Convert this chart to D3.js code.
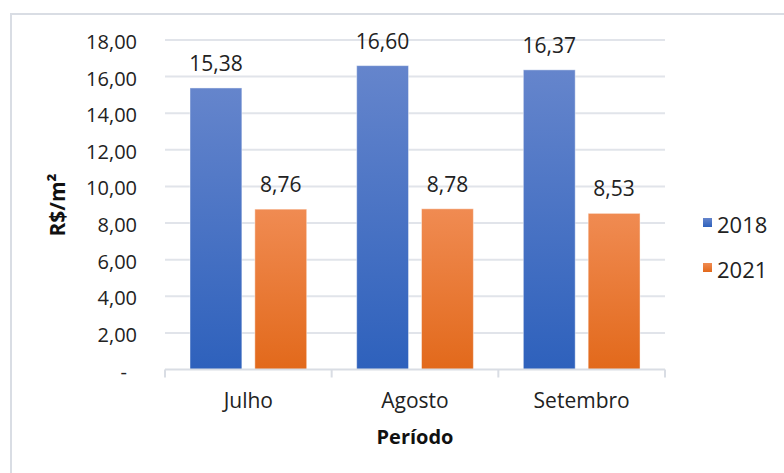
<!DOCTYPE html>
<html>
<head>
<meta charset="utf-8">
<script src="https://cdn.jsdelivr.net/npm/d3@7"></script>
<style>
  body { margin: 0; background: #fff; }
  svg { display: block; font-family: "Open Sans", sans-serif; }
</style>
</head>
<body>
<svg width="784" height="473"></svg>
<script>
const months = ['Julho', 'Agosto', 'Setembro']
const series = ['2018', '2021']
const values2018 = [15.38, 16.60, 16.37]
const values2021 = [8.76, 8.78, 8.53]
const yTicks = [0, 2, 4, 6, 8, 10, 12, 14, 16, 18]

const seriesValues = { '2018': values2018, '2021': values2021 }
const colors = {
  '2018': ['#6585cc', '#2e61bc'],
  '2021': ['#f08b52', '#e2691b']
}

const svg = d3.select('svg')
const fmt = v => v === 0 ? '-' : v.toFixed(2).replace('.', ',')

// gradients
const defs = svg.append('defs')
series.forEach(s => {
  const g = defs.append('linearGradient')
    .attr('id', 'grad' + s)
    .attr('x1', 0).attr('y1', 0).attr('x2', 0).attr('y2', 1)
  g.append('stop').attr('offset', '0%').attr('stop-color', colors[s][0])
  g.append('stop').attr('offset', '100%').attr('stop-color', colors[s][1])
})

// outer frame
svg.append('rect')
  .attr('x', 11).attr('y', 14)
  .attr('width', 800).attr('height', 500)
  .attr('fill', 'none')
  .attr('stroke', '#d9dde4')
  .attr('stroke-width', 2)

const x = d3.scaleBand().domain(months).range([165, 665])
const xInner = d3.scaleBand().domain(series).range([25, 141.7]).paddingInner(0.2)
const y = d3.scaleLinear().domain([0, 18]).range([369.5, 40])

// gridlines
svg.append('g')
  .selectAll('line')
  .data(yTicks.filter(t => t > 0))
  .join('line')
  .attr('x1', 165).attr('x2', 665)
  .attr('y1', d => y(d)).attr('y2', d => y(d))
  .attr('stroke', '#e1e4ea')
  .attr('stroke-width', 2)

// y tick labels
svg.append('g')
  .selectAll('text')
  .data(yTicks)
  .join('text')
  .attr('x', d => d === 0 ? 127 : 137)
  .attr('y', d => y(d) + 2)
  .attr('dy', '0.35em')
  .attr('text-anchor', 'end')
  .attr('font-size', 20)
  .attr('fill', '#222')
  .text(fmt)

// bars
const groups = svg.append('g')
  .selectAll('g')
  .data(months)
  .join('g')
  .attr('transform', d => `translate(${x(d)},0)`)

groups.selectAll('rect')
  .data((m, i) => series.map(s => ({ s, v: seriesValues[s][i] })))
  .join('rect')
  .attr('x', d => xInner(d.s))
  .attr('width', xInner.bandwidth())
  .attr('y', d => y(d.v))
  .attr('height', d => y(0) - y(d.v))
  .attr('fill', d => `url(#grad${d.s})`)
  .attr('stroke', 'rgba(255,255,255,0.45)')
  .attr('stroke-width', 1)

groups.selectAll('text')
  .data((m, i) => series.map(s => ({ s, v: seriesValues[s][i] })))
  .join('text')
  .attr('x', d => xInner(d.s) + xInner.bandwidth() / 2)
  .attr('y', d => y(d.v) - 17)
  .attr('text-anchor', 'middle')
  .attr('font-size', 21)
  .attr('fill', '#222')
  .text(d => fmt(d.v))

// x axis line and ticks
const axis = svg.append('g').attr('stroke', '#d9dde4').attr('stroke-width', 2)
axis.append('line')
  .attr('x1', 165).attr('x2', 665)
  .attr('y1', y(0)).attr('y2', y(0))
axis.selectAll('line.tick')
  .data(months.map(m => x(m)).concat([x.range()[1]]))
  .join('line')
  .attr('class', 'tick')
  .attr('x1', d => d).attr('x2', d => d)
  .attr('y1', y(0)).attr('y2', y(0) + 8)

svg.append('g')
  .selectAll('text')
  .data(months)
  .join('text')
  .attr('x', d => x(d) + x.bandwidth() / 2)
  .attr('y', 408)
  .attr('text-anchor', 'middle')
  .attr('font-size', 21)
  .attr('fill', '#222')
  .text(d => d)

// axis titles
svg.append('text')
  .attr('x', 415).attr('y', 444)
  .attr('text-anchor', 'middle')
  .attr('font-size', 20)
  .attr('font-weight', 'bold')
  .attr('fill', '#111')
  .text('Período')

svg.append('text')
  .attr('transform', 'translate(65,205) rotate(-90)')
  .attr('text-anchor', 'middle')
  .attr('font-size', 21)
  .attr('font-weight', 'bold')
  .attr('fill', '#111')
  .text('R$/m²')

// legend
const legend = svg.append('g')
  .selectAll('g')
  .data(series)
  .join('g')
  .attr('transform', (d, i) => `translate(703,${218 + i * 45})`)
legend.append('rect')
  .attr('width', 9).attr('height', 9)
  .attr('fill', d => `url(#grad${d})`)
legend.append('text')
  .attr('x', 14).attr('y', 15)
  .attr('font-size', 22)
  .attr('fill', '#222')
  .text(d => d)
</script>
</body>
</html>
